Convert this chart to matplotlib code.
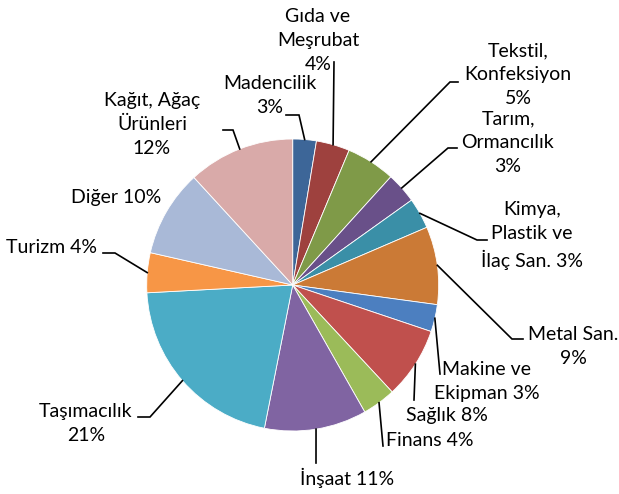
import numpy as np
import matplotlib.pyplot as plt

# sector shares (percent of total)
sectors = ["Madencilik", "Gıda ve\nMeşrubat", "Tekstil,\nKonfeksiyon", "Tarım,\nOrmancılık",
           "Kimya,\nPlastik ve\nİlaç San.", "Metal San.", "Makine ve\nEkipman", "Sağlık",
           "Finans", "İnşaat", "Taşımacılık", "Turizm", "Diğer", "Kağıt, Ağaç\nÜrünleri"]
shares = [2.6, 3.7, 5.4, 3.4, 3.4, 8.6, 3.0, 7.9, 3.7, 11.3, 21.0, 4.4, 9.6, 11.8]
pct_text = ["3%", "4%", "5%", "3%", "3%", "9%", "3%", "8%", "4%", "11%", "21%", "4%", "10%", "12%"]
colors = ["#3D6698", "#9E413E", "#7F9A48", "#695089", "#3A8FA7", "#CB7A36", "#4C7FC0",
          "#C0504D", "#9BBB59", "#8064A2", "#4BACC6", "#F79646", "#A9B9D7", "#D9AAA9"]

# label layout in pixel coords (x, y from top), separator between name and percent
lab_pos = [(270, 95.5), (318, 41), (518, 75), (508, 143), (532, 235.5), (573, 346),
           (487, 381.5), (447, 415), (430, 440), (347, 478), (86, 423.5), (52, 248),
           (116, 197), (152, 124.5)]
sep = ["\n", "\n", "\n", "\n", " ", "\n", " ", " ", " ", " ", "\n", " ", " ", "\n"]
# leader line points after the pie edge point (pixel coords)
leaders = [[(299, 115), (286, 115)], [(334, 62)], [(450, 82), (458, 82)],
           [(448, 148), (457, 148)], [(477, 240), (487, 240)], [(512, 339), (523, 339)],
           [(440, 374)], [(414, 400)], [(383, 446)], [(316, 463)],
           [(150, 417), (138, 417)], [(115, 253), (103, 253)], [], [(233, 130), (223, 130)]]

W, H = 619, 494
cx, cy, r = 292.7, H - 285, 146

fig = plt.figure(figsize=(6.19, 4.94), dpi=100)
ax = fig.add_axes([0, 0, 1, 1])
ax.pie(shares, colors=colors, startangle=90, counterclock=False, center=(cx, cy), radius=r,
       wedgeprops=dict(edgecolor="white", linewidth=0.6))
ax.set_xlim(0, W)
ax.set_ylim(0, H)
ax.set_aspect("equal")
ax.axis("off")

tot = sum(shares)
cum = 0
for i, s in enumerate(shares):
    mid = (cum + s / 2) / tot * 2 * np.pi
    cum += s
    ex, ey = cx + r * np.sin(mid), cy + r * np.cos(mid)
    if leaders[i]:
        xs = [ex] + [p[0] for p in leaders[i]]
        ys = [ey] + [H - p[1] for p in leaders[i]]
        ax.plot(xs, ys, color="black", lw=1.2, solid_joinstyle="miter")
    x, y = lab_pos[i]
    ax.text(x, H - y, sectors[i] + sep[i] + pct_text[i], ha="center", va="center",
            multialignment="center", fontsize=14, family="Lato", linespacing=1.5)

fig.savefig("out.png", dpi=100)
